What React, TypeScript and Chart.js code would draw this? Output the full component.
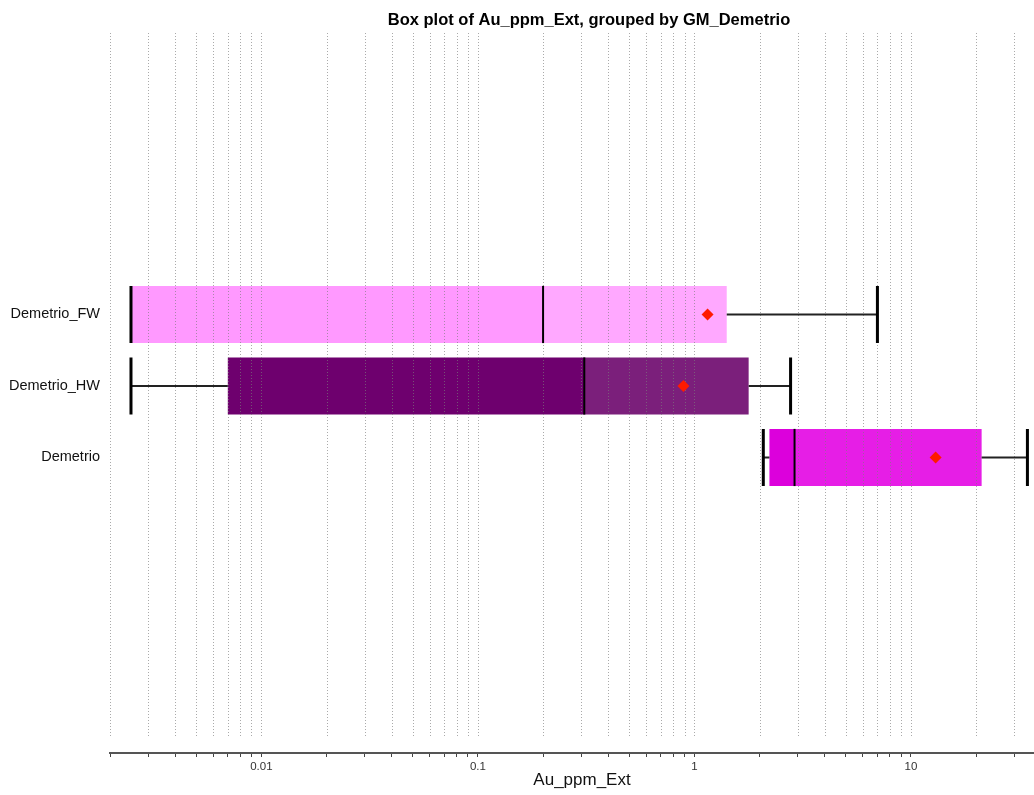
import React, { useEffect, useRef } from "react";
import { Chart, registerables } from "chart.js";

Chart.register(...registerables);

// ---- data ----
const CATEGORIES = ["Demetrio", "Demetrio_HW", "Demetrio_FW"]; // y positions 0,1,2
const WHISKER_LOW = [2.08, 0.0025, 0.0025];
const Q1 = [2.22, 0.007, 0.0025];
const MEDIAN = [2.9, 0.31, 0.2];
const Q3 = [21.2, 1.78, 1.41];
const WHISKER_HIGH = [34.5, 2.78, 7.0];
const MEAN = [13.0, 0.89, 1.15];

const DECADE_LABELS = [0.01, 0.1, 1, 10];
const X_MIN = 0.002;
const X_MAX = 37;
const Y_MIN = -4.133;
const Y_MAX = 5.937;

const TITLE = "Box plot of Au_ppm_Ext, grouped by GM_Demetrio";
const X_TITLE = "Au_ppm_Ext";

// ---- styles ----
const LOWER_COLORS = ["#dc00dc", "#6e006e", "#ff99ff"];
const UPPER_COLORS = ["#e61ee6", "#7b1f7b", "#ffa8ff"];
const FONT = "'Liberation Sans', Arial, Helvetica, sans-serif";

const TICK_VALUES: number[] = [];
for (let e = -3; e <= 1; e++) {
  for (let m = 1; m <= 9; m++) {
    const v = Number((m * Math.pow(10, e)).toPrecision(3));
    if (v >= X_MIN - 1e-12 && v <= X_MAX) TICK_VALUES.push(v);
  }
}

const isDecade = (v: number) => DECADE_LABELS.some((d) => Math.abs(d - v) / d < 1e-6);

const extrasPlugin = {
  id: "boxExtras",
  beforeDatasetDraw(chart: any, args: any) {
    if (args.meta.type !== "scatter") return;
    const ctx = chart.ctx;
    const x = chart.scales.x;
    const y = chart.scales.y;
    const area = chart.chartArea;
    // dotted grid lines
    ctx.save();
    ctx.strokeStyle = "rgba(125,125,125,0.65)";
    ctx.lineWidth = 1;
    ctx.setLineDash([1, 2]);
    TICK_VALUES.forEach((v) => {
      const px = Math.round(x.getPixelForValue(v)) + 0.5;
      ctx.beginPath();
      ctx.moveTo(px, area.top);
      ctx.lineTo(px, area.bottom - 15);
      ctx.stroke();
    });
    ctx.restore();

    // whiskers, caps, medians
    const barMeta = chart.getDatasetMeta(0);
    ctx.save();
    CATEGORIES.forEach((_, i) => {
      const bar = barMeta.data[i];
      const h = bar ? bar.height : 57;
      const cy = y.getPixelForValue(i);
      const top = cy - h / 2;
      const bot = cy + h / 2;
      const xl = x.getPixelForValue(WHISKER_LOW[i]);
      const xq1 = x.getPixelForValue(Q1[i]);
      const xq3 = x.getPixelForValue(Q3[i]);
      const xh = x.getPixelForValue(WHISKER_HIGH[i]);
      const xm = x.getPixelForValue(MEDIAN[i]);
      ctx.strokeStyle = "#222";
      ctx.lineWidth = 2;
      ctx.beginPath();
      ctx.moveTo(xl, cy);
      ctx.lineTo(xq1, cy);
      ctx.moveTo(xq3, cy);
      ctx.lineTo(xh, cy);
      ctx.stroke();
      ctx.strokeStyle = "#000";
      ctx.lineWidth = 3;
      ctx.beginPath();
      ctx.moveTo(xl, top);
      ctx.lineTo(xl, bot);
      ctx.moveTo(xh, top);
      ctx.lineTo(xh, bot);
      ctx.stroke();
      ctx.lineWidth = 2;
      ctx.beginPath();
      ctx.moveTo(xm, top);
      ctx.lineTo(xm, bot);
      ctx.stroke();
    });
    ctx.restore();
  },
  afterDraw(chart: any) {
    const ctx = chart.ctx;
    const y = chart.scales.y;
    ctx.save();
    ctx.fillStyle = "#000";
    ctx.font = `bold 16.5px ${FONT}`;
    ctx.textAlign = "center";
    ctx.textBaseline = "alphabetic";
    ctx.fillText(TITLE, 589, 25);
    ctx.font = `17px ${FONT}`;
    ctx.fillStyle = "#111";
    ctx.fillText(X_TITLE, 582, 785);
    ctx.font = `14.5px ${FONT}`;
    ctx.textAlign = "right";
    ctx.textBaseline = "middle";
    CATEGORIES.forEach((c, i) => {
      ctx.fillText(c, 100, y.getPixelForValue(i));
    });
    ctx.restore();
  },
};

export default function App() {
  const ref = useRef<HTMLCanvasElement>(null);

  useEffect(() => {
    if (!ref.current) return;
    Chart.defaults.font.family = FONT;
    const chart = new Chart(ref.current, {
      type: "bar",
      data: {
        datasets: [
          {
            label: "lower",
            data: CATEGORIES.map((_, i) => ({ x: [Q1[i], MEDIAN[i]], y: i })) as any,
            backgroundColor: LOWER_COLORS,
            borderWidth: 0,
            grouped: false,
            categoryPercentage: 0.8,
            barPercentage: 1,
            order: 1,
          } as any,
          {
            label: "upper",
            data: CATEGORIES.map((_, i) => ({ x: [MEDIAN[i], Q3[i]], y: i })) as any,
            backgroundColor: UPPER_COLORS,
            borderWidth: 0,
            grouped: false,
            categoryPercentage: 0.8,
            barPercentage: 1,
            order: 1,
          } as any,
          {
            type: "scatter",
            label: "mean",
            data: CATEGORIES.map((_, i) => ({ x: MEAN[i], y: i })),
            pointStyle: "rectRot",
            pointRadius: 6,
            pointBorderWidth: 0,
            backgroundColor: "#ff1a00",
            borderColor: "#ff1a00",
            order: 0,
          } as any,
        ],
      },
      options: {
        indexAxis: "y",
        responsive: false,
        animation: false,
        layout: { autoPadding: false, padding: { left: 110, top: 33, right: 0, bottom: 0 } },
        plugins: {
          legend: { display: false },
          title: { display: false },
          tooltip: { enabled: false },
        },
        scales: {
          x: {
            type: "logarithmic",
            min: X_MIN,
            max: X_MAX,
            afterBuildTicks: (s: any) => {
              s.ticks = TICK_VALUES.map((v) => ({ value: v, major: isDecade(v) }));
            },
            afterFit: (s: any) => {
              s.height = 42;
            },
            grid: {
              drawOnChartArea: false,
              drawTicks: true,
              tickLength: 4,
              tickColor: "#444",
              color: "#444",
            },
            border: { display: true, color: "#555", width: 2 },
            ticks: {
              autoSkip: false,
              maxRotation: 0,
              minRotation: 0,
              padding: 3,
              color: "#333",
              font: { size: 11.5, family: FONT },
              callback: (v: any) => (isDecade(Number(v)) ? String(Number(v)) : ""),
            },
            title: { display: false },
          },
          y: {
            type: "linear",
            min: Y_MIN,
            max: Y_MAX,
            offset: false,
            display: false,
            afterBuildTicks: (s: any) => {
              s.ticks = [];
            },
            grid: { display: false },
          },
        },
      } as any,
      plugins: [extrasPlugin],
    });
    return () => chart.destroy();
  }, []);

  return (
    <div style={{ position: "absolute", left: 0, top: 0, width: 1034, height: 795, background: "#fff" }}>
      <canvas ref={ref} width={1034} height={795} style={{ display: "block" }} />
    </div>
  );
}
